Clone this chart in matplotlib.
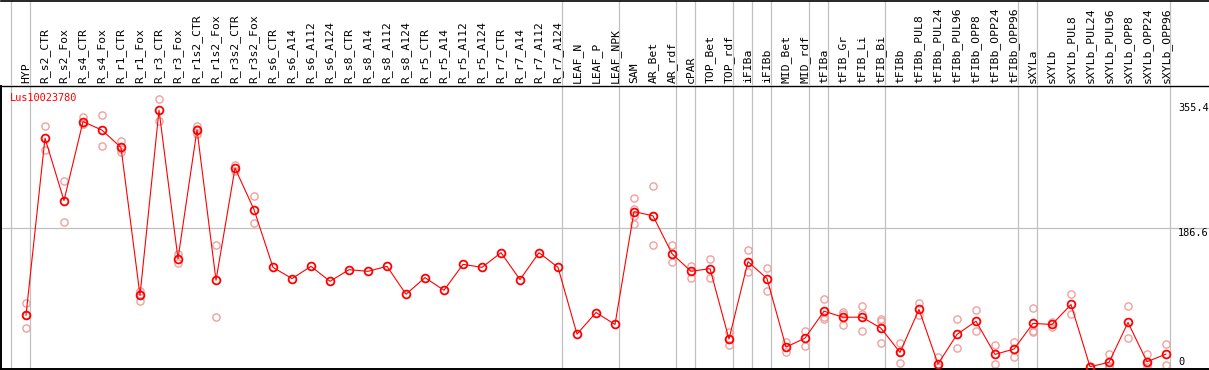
import matplotlib
matplotlib.use("Agg")
import matplotlib.pyplot as plt
import numpy as np

title = "Lus10023780"
categories = ["HYP", "R_s2_CTR", "R_s2_Fox", "R_s4_CTR", "R_s4_Fox", "R_r1_CTR", "R_r1_Fox",
              "R_r3_CTR", "R_r3_Fox", "R_r1s2_CTR", "R_r1s2_Fox", "R_r3s2_CTR", "R_r3s2_Fox",
              "R_s6_CTR", "R_s6_A14", "R_s6_A112", "R_s6_A124", "R_s8_CTR", "R_s8_A14",
              "R_s8_A112", "R_s8_A124", "R_r5_CTR", "R_r5_A14", "R_r5_A112", "R_r5_A124",
              "R_r7_CTR", "R_r7_A14", "R_r7_A112", "R_r7_A124", "LEAF_N", "LEAF_P", "LEAF_NPK",
              "SAM", "AR_Bet", "AR_rdf", "cPAR", "TOP_Bet", "TOP_rdf", "iFIBa", "iFIBb",
              "MID_Bet", "MID_rdf", "tFIBa", "tFIB_Gr", "tFIB_Li", "tFIB_Bi", "tFIBb",
              "tFIBb_PUL8", "tFIBb_PUL24", "tFIBb_PUL96", "tFIBb_OPP8", "tFIBb_OPP24",
              "tFIBb_OPP96", "sXYLa", "sXYLb", "sXYLb_PUL8", "sXYLb_PUL24", "sXYLb_PUL96",
              "sXYLb_OPP8", "sXYLb_OPP24", "sXYLb_OPP96"]

means = [69.8, 308.3, 224.2, 330.6, 319.1, 295.7, 96.6, 345.9, 145.9, 319.5, 116.8, 268.0, 212.1,
         134.2, 119.1, 135.6, 115.4, 131.1, 128.9, 135.6, 98.0, 120.4, 103.4, 138.3, 134.2,
         154.0, 117.7, 154.0, 134.2, 44.3, 73.4, 57.3,
         209.4, 203.6, 152.6, 128.9, 132.5, 37.6, 141.9, 119.1, 26.8, 38.9,
         75.2, 67.1, 67.1, 52.3, 19.7, 77.5, 4.0, 43.9, 61.7, 17.0, 24.2,
         58.7, 57.3, 84.2, 0.4, 6.3, 60.0, 7.1, 17.4]

replicates = [[86, 70, 53], [325, 292], [251, 196], [337, 327, 328], [340, 298], [304, 289, 294],
              [103, 89, 98], [361, 332], [152, 140], [325, 314, 320], [165, 68], [272, 264],
              [230, 194],
              [], [], [], [], [], [], [], [], [], [], [], [], [], [], [], [], [], [], [],
              [228, 213, 203, 193], [244, 165, 204], [164, 141], [136, 120], [146, 120],
              [47, 30, 38], [157, 128], [134, 103], [34, 20], [49, 28],
              [91, 68, 65], [74, 71.5, 57], [82, 71, 48], [65, 62, 33], [33, 5, 20],
              [86, 70], [13, 0, 0], [64, 25], [76.5, 48], [29, 4], [34, 14],
              [79, 48, 47], [60, 54], [98, 71.5], [2, 0], [17, 2, 0], [82, 38.5],
              [17, 0, 4], [31, 3]]

group_sizes = [1, 28, 3, 3, 1, 2, 1, 1, 2, 1, 3, 7, 1, 7]
yticks_right = [355.4, 186.6, 0]
grid_value = 186.6

W, H = 1209, 370
fig = plt.figure(figsize=(W / 100, H / 100), dpi=100)

x0_px, step_px = 26, 19
xl = (1 - x0_px) / step_px
xr = (W - x0_px) / step_px
y_zero_px, scale = 367, 0.745
ylo = (y_zero_px - 369) / scale
yhi = (y_zero_px - 85) / scale

ax = fig.add_axes([1 / W, 1 / H, (W - 1) / W, (369 - 85 - 1) / H])
hdr = fig.add_axes([1 / W, (H - 85) / H, (W - 1) / W, 84.5 / H])

gray = "#c0c0c0"
bounds = np.cumsum([0] + group_sizes) - 1 + 4 / 19
for a in (ax, hdr):
    for b in bounds:
        a.axvline(b, color=gray, lw=0.9, zorder=0)
    a.set_xlim(xl, xr)
    a.set_xticks([])
    a.set_yticks([])
    for s in ("right",):
        a.spines[s].set_visible(False)
    a.patch.set_alpha(0)

hdr.spines["left"].set_visible(False)
hdr.spines["bottom"].set_visible(False)
hdr.spines["top"].set_linewidth(1.2)
hdr.set_ylim(0, 1)

ax.set_ylim(ylo, yhi)
ax.spines["top"].set_linewidth(1.0)
ax.spines["left"].set_linewidth(1.4)
ax.spines["bottom"].set_linewidth(1.4)
ax.axhline(grid_value, color=gray, lw=0.9, zorder=0)

x = np.arange(len(categories))
for i, reps in enumerate(replicates):
    if reps:
        ax.plot([i] * len(reps), reps, linestyle="none", marker="o", ms=5.2,
                mfc="none", mec="#f0a0a0", mew=1.0, zorder=2)
ax.plot(x, means, color="#ff0000", lw=0.8, marker="o", ms=5.6, mfc="none",
        mec="#ff0000", mew=1.3, zorder=3)

for i, c in enumerate(categories):
    hdr.text(i, 0.025, c, rotation=90, ha="center", va="bottom", fontsize=8.2,
             family="DejaVu Sans Mono")

ax.text(10 / step_px + xl - 1 / step_px, yhi - 12 / scale, title, color="#ff0000",
        fontsize=7.4, family="DejaVu Sans Mono", ha="left", va="center")

xt = (1178 - x0_px) / step_px
for v in yticks_right[:2]:
    ax.text(xt, v, f"{v}", fontsize=7.4, family="DejaVu Sans Mono", ha="left", va="top")
ax.text(xt, yticks_right[2] + 6.7, f"{yticks_right[2]}", fontsize=7.4,
        family="DejaVu Sans Mono", ha="left", va="center")

fig.savefig("out.png", dpi=100)
